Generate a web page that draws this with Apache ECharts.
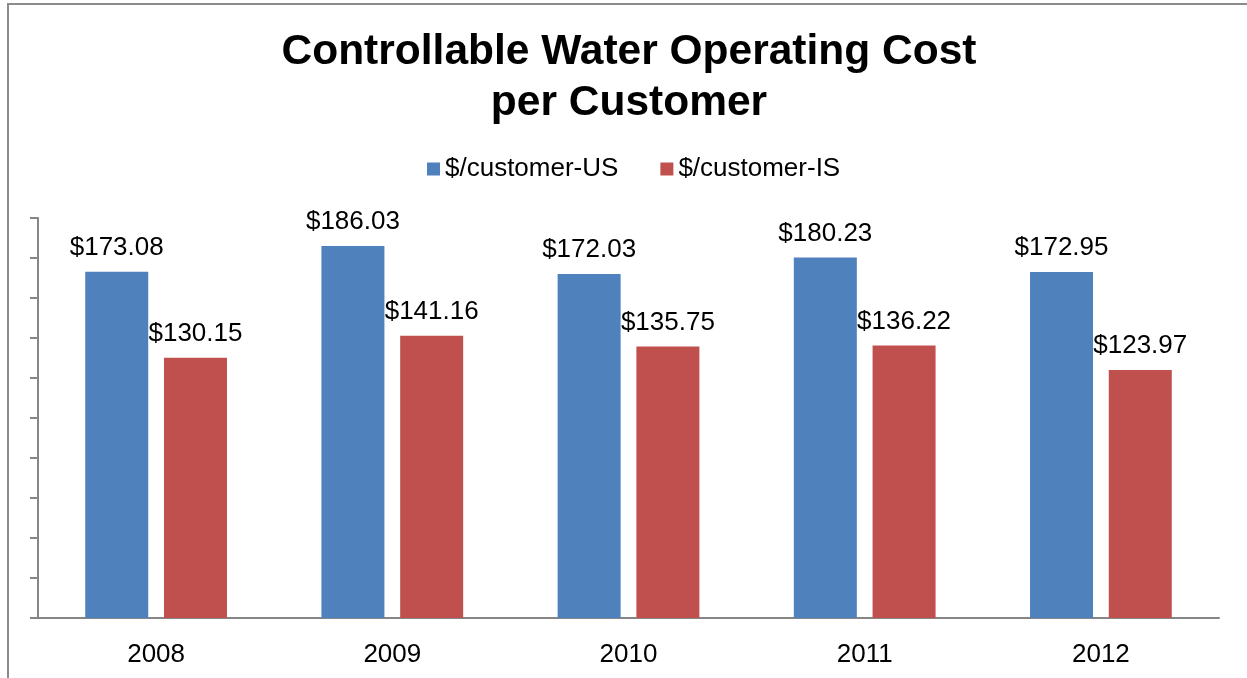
<!DOCTYPE html>
<html>
<head>
<meta charset="utf-8">
<script src="https://cdn.jsdelivr.net/npm/echarts@6/dist/echarts.min.js"></script>
<style>
html,body{margin:0;padding:0;background:#fff;}
#chart{width:1247px;height:678px;}
</style>
</head>
<body>
<div id="chart"></div>
<script>
var categories = ['2008', '2009', '2010', '2011', '2012'];
var seriesNames = ['$/customer-US', '$/customer-IS'];
var usValues = [173.08, 186.03, 172.03, 180.23, 172.95];
var isValues = [130.15, 141.16, 135.75, 136.22, 123.97];

var chart = echarts.init(document.getElementById('chart'));
var font = 'Liberation Sans, Arial, sans-serif';
function labelFmt(p) { return '$' + p.value.toFixed(2); }
chart.setOption({
  animation: false,
  textStyle: { fontFamily: font },
  graphic: [{
    type: 'rect', silent: true,
    shape: { x: 8, y: 4, width: 1400, height: 900 },
    style: { fill: 'none', stroke: '#8c8c8c', lineWidth: 2 }
  }],
  title: {
    text: 'Controllable Water Operating Cost\nper Customer',
    left: 624, top: 22, textAlign: 'center',
    textStyle: { fontFamily: font, fontSize: 42.5, fontWeight: 'bold', color: '#000', lineHeight: 51 }
  },
  legend: {
    data: seriesNames,
    left: 422, top: 151,
    itemWidth: 13, itemHeight: 13, itemGap: 42,
    icon: 'rect',
    textStyle: { fontFamily: font, fontSize: 26, color: '#000', padding: [0, 0, 0, 0] }
  },
  grid: { left: 38, right: 28, top: 218, bottom: 60, containLabel: false },
  xAxis: {
    type: 'category', data: categories,
    axisLine: { lineStyle: { color: '#868686', width: 2 } },
    axisTick: { show: false },
    axisLabel: { fontFamily: font, fontSize: 26, color: '#000', margin: 24 }
  },
  yAxis: {
    type: 'value', min: 0, max: 200, interval: 20,
    axisLine: { show: true, lineStyle: { color: '#868686', width: 2 } },
    axisTick: { show: true, length: 8, lineStyle: { color: '#868686', width: 2 } },
    axisLabel: { show: false },
    splitLine: { show: false }
  },
  series: [
    {
      name: seriesNames[0], type: 'bar', data: usValues,
      barWidth: 63, barGap: '25%',
      itemStyle: { color: '#4F81BD' },
      label: { show: true, position: 'top', distance: 11, formatter: labelFmt,
        fontFamily: font, fontSize: 26, color: '#000' }
    },
    {
      name: seriesNames[1], type: 'bar', data: isValues,
      barWidth: 63,
      itemStyle: { color: '#C0504D' },
      label: { show: true, position: 'top', distance: 11, formatter: labelFmt,
        fontFamily: font, fontSize: 26, color: '#000' }
    }
  ]
});
</script>
</body>
</html>
